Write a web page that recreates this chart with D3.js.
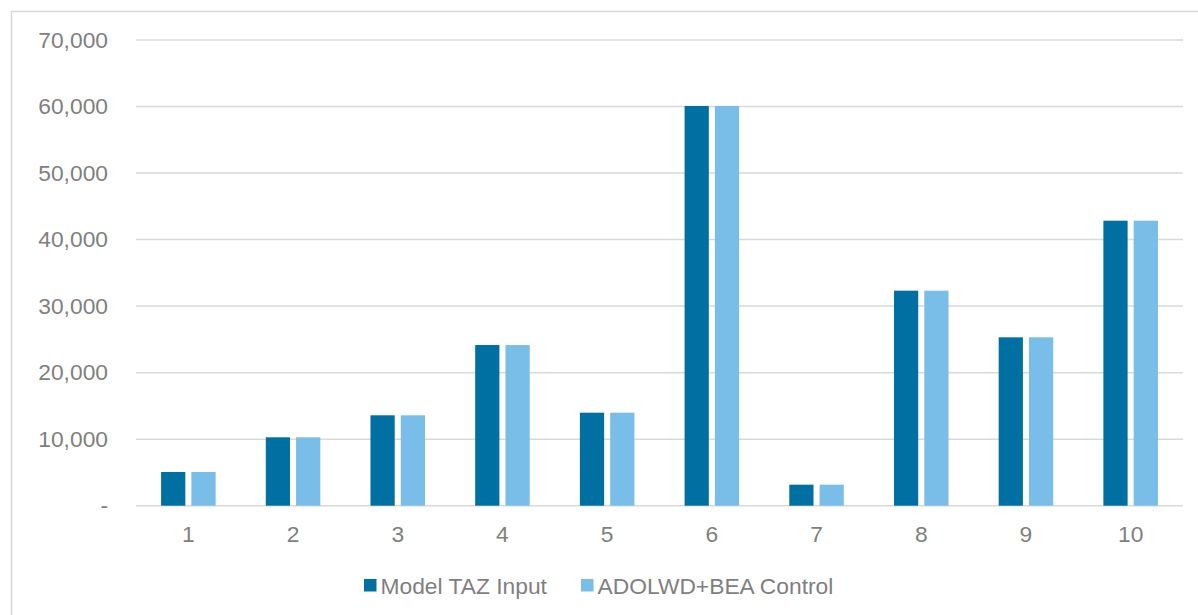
<!DOCTYPE html>
<html>
<head>
<meta charset="utf-8">
<script src="https://cdn.jsdelivr.net/npm/d3@7"></script>
<style>
  html, body { margin: 0; padding: 0; background: #fff; }
  svg { display: block; font-family: "Liberation Sans", Arial, sans-serif; }
</style>
</head>
<body>
<svg id="chart" width="1198" height="615"></svg>
<script>
// Employment by district: model inputs vs. control totals
const categories = ["1", "2", "3", "4", "5", "6", "7", "8", "9", "10"];
const modelTaz = [5070, 10280, 13590, 24150, 13980, 60080, 3160, 32320, 25310, 42840];
const control = [5070, 10280, 13590, 24150, 13980, 60080, 3160, 32320, 25310, 42840];
const seriesNames = ["Model TAZ Input", "ADOLWD+BEA Control"];
const colors = ["#0070A3", "#78BEE9"];
const yTicks = [0, 10000, 20000, 30000, 40000, 50000, 60000, 70000];

const svg = d3.select("#chart");
const W = 1198, H = 615;
const margin = { left: 136, right: W - 1183, top: 40, bottom: H - 505.7 };
const labelSize = "22.8px";

// outer frame
svg.append("rect")
  .attr("x", 11.5).attr("y", 11.5)
  .attr("width", W + 20).attr("height", H + 20)
  .attr("fill", "none").attr("stroke", "#d9d9d9").attr("stroke-width", 1.5);

const x = d3.scaleBand().domain(categories)
  .range([margin.left, W - margin.right]).paddingInner(0).paddingOuter(0);
const y = d3.scaleLinear().domain([0, 70000]).range([H - margin.bottom, margin.top]);

const fmt = v => v === 0 ? "-" : d3.format(",")(v);

// gridlines
svg.append("g").selectAll("line").data(yTicks).join("line")
  .attr("x1", margin.left).attr("x2", W - margin.right)
  .attr("y1", d => y(d)).attr("y2", d => y(d))
  .attr("stroke", "#d9d9d9").attr("stroke-width", 1.5);

// y axis labels
const yAxis = d3.axisLeft(y).tickValues(yTicks).tickFormat(fmt).tickSize(0).tickPadding(0);
const gy = svg.append("g").attr("transform", "translate(108,0)").call(yAxis);
gy.select(".domain").remove();
gy.selectAll("text").attr("fill", "#7f7f7f").style("font-size", labelSize)
  .attr("font-family", "Liberation Sans, Arial, sans-serif");

// x axis labels
const xAxis = d3.axisBottom(x).tickSize(0).tickPadding(0);
const gx = svg.append("g").attr("transform", `translate(0,${y(0) + 20})`).call(xAxis);
gx.select(".domain").remove();
gx.selectAll("text").attr("fill", "#7f7f7f").style("font-size", labelSize)
  .attr("font-family", "Liberation Sans, Arial, sans-serif");

// bars: two per category, clustered in the middle of each band
const inner = d3.scaleBand().domain([0, 1])
  .range([x.bandwidth() * 0.2395, x.bandwidth() * 0.7605])
  .paddingInner(0.2).paddingOuter(0);
const rows = categories.map((c, i) => ({ c, vals: [modelTaz[i], control[i]] }));
const groups = svg.append("g").selectAll("g").data(rows).join("g")
  .attr("transform", d => `translate(${x(d.c)},0)`);
groups.selectAll("rect").data(d => d.vals.map((v, k) => ({ v, k }))).join("rect")
  .attr("x", d => inner(d.k))
  .attr("width", inner.bandwidth())
  .attr("y", d => y(d.v))
  .attr("height", d => y(0) - y(d.v))
  .attr("fill", d => colors[d.k]);

// legend
const legendItems = [
  { name: seriesNames[0], color: colors[0], x: 364 },
  { name: seriesNames[1], color: colors[1], x: 581 }
];
const lg = svg.append("g").selectAll("g").data(legendItems).join("g")
  .attr("transform", d => `translate(${d.x},579)`);
lg.append("rect").attr("width", 12.5).attr("height", 12.5).attr("fill", d => d.color);
lg.append("text").attr("x", 16.5).attr("y", 14.5)
  .attr("fill", "#7f7f7f").style("font-size", labelSize)
  .text(d => d.name);
</script>
</body>
</html>
